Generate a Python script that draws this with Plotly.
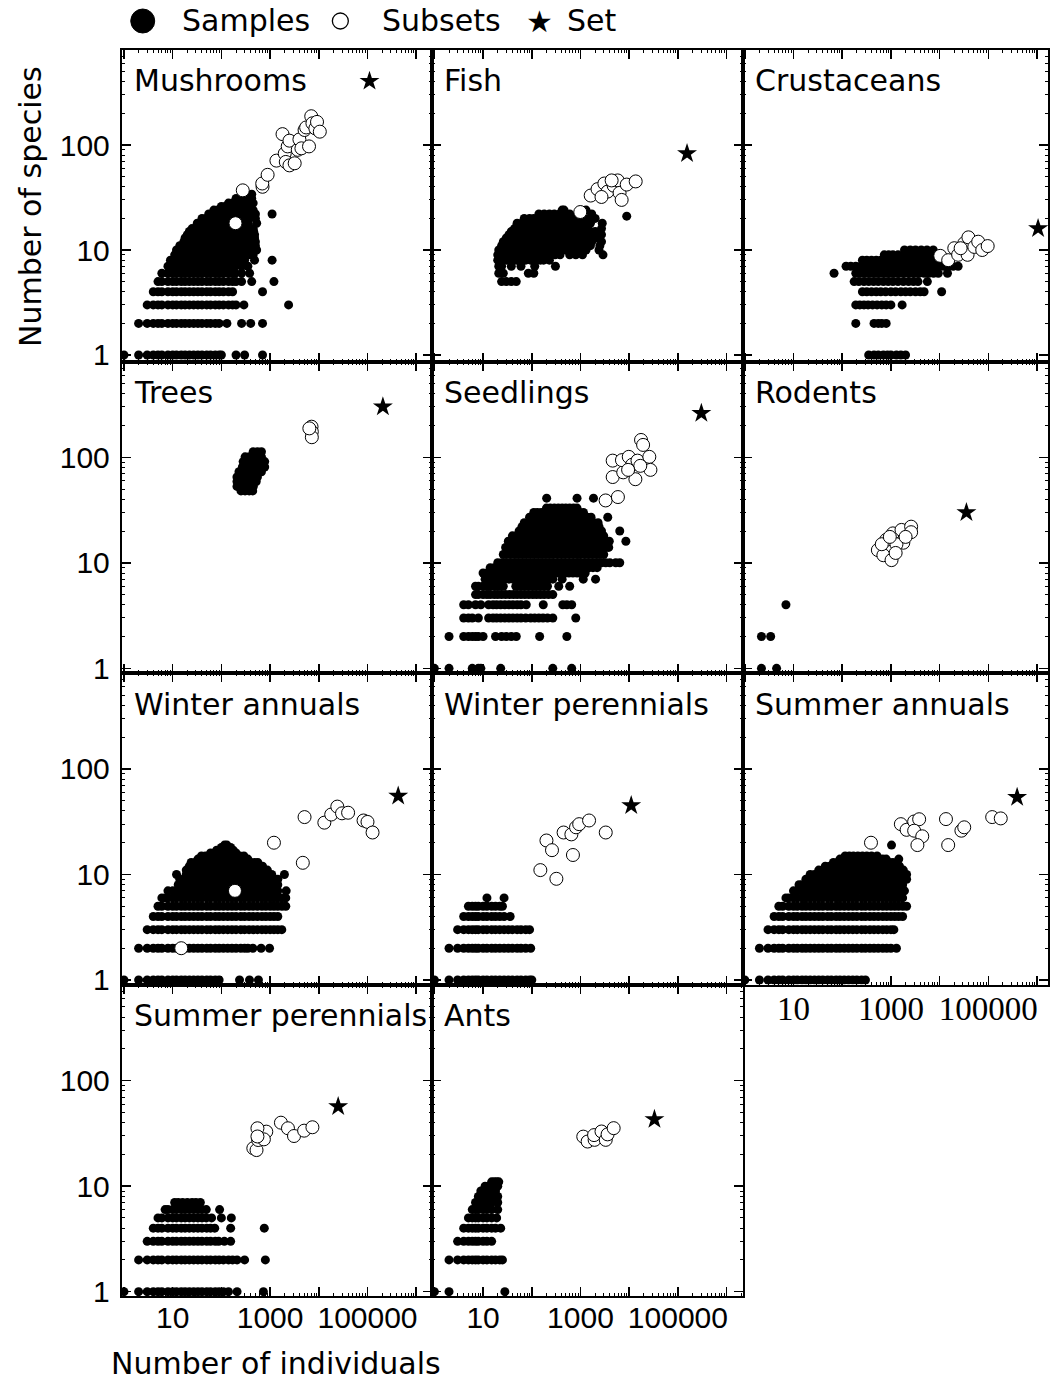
import plotly.graph_objects as go

# ---------------- data ----------------
# samples: {number of species: [number of individuals, ...]}
MUSH_SAMPLES = {
    1: [1, 2, 3, 4, 5, 6, 8, 10, 12, 15, 18, 22, 27, 33, 40, 50, 60, 75, 90, 100, 200, 300, 700],
    2: [2, 3, 4, 5, 6, 8, 10, 12, 15, 18, 22, 27, 33, 40, 50, 60, 75, 90, 130, 260, 400, 700],
    3: [3, 4, 5, 6, 8, 10, 12, 15, 18, 22, 27, 33, 40, 50, 60, 75, 90, 110, 140, 170, 200, 290, 2400],
    4: [4, 5, 6, 8, 10, 12, 15, 18, 22, 27, 33, 40, 50, 60, 75, 90, 110, 140, 170, 700],
    5: [5, 6, 8, 10, 12, 15, 18, 22, 27, 33, 40, 50, 60, 75, 90, 110, 140, 170, 200, 260, 420, 1200],
    6: [6, 8, 10, 12, 15, 18, 22, 27, 33, 40, 50, 60, 75, 90, 110, 140, 170, 190, 260, 380],
    7: [8, 10, 12, 15, 18, 22, 27, 33, 40, 50, 60, 75, 90, 110, 140, 170, 190, 260, 350],
    8: [9, 11, 13, 15, 18, 22, 27, 33, 40, 50, 60, 75, 90, 110, 140, 170, 240, 300, 480, 1100],
    9: [11, 13, 15, 18, 22, 27, 33, 40, 50, 60, 75, 90, 110, 140, 170, 200, 250, 300, 370, 450],
    10: [12, 15, 18, 22, 27, 33, 40, 50, 60, 75, 90, 110, 140, 170, 200, 250, 300, 370, 450, 530],
    11: [14, 17, 20, 24, 29, 35, 42, 50, 60, 72, 87, 105, 125, 150, 180, 220, 270, 330, 400, 500],
    12: [17, 20, 24, 29, 35, 42, 50, 60, 72, 87, 105, 125, 150, 180, 220, 270, 330, 400, 500],
    13: [18, 22, 27, 33, 40, 50, 60, 75, 90, 110, 140, 170, 200, 250, 300, 370, 480],
    14: [20, 24, 29, 35, 42, 50, 60, 72, 87, 105, 125, 150, 180, 220, 270, 330, 400, 480],
    15: [22, 27, 33, 40, 50, 60, 75, 90, 110, 140, 170, 200, 250, 300, 370, 460],
    16: [25, 30, 36, 43, 52, 62, 75, 90, 110, 130, 160, 190, 230, 280, 340, 450],
    18: [32, 38, 46, 55, 66, 80, 96, 115, 140, 165, 200, 240, 290, 350, 530],
    20: [40, 48, 58, 70, 84, 100, 120, 145, 175, 210, 250, 300, 370, 500],
    22: [55, 66, 80, 96, 115, 140, 165, 200, 240, 290, 350, 420, 500, 1100],
    24: [70, 84, 100, 120, 145, 175, 210, 250, 300, 370, 450],
    26: [100, 120, 145, 175, 210, 250, 300, 400],
    28: [140, 170, 200, 240, 290, 350, 450],
    31: [200, 240, 290, 350, 420],
    34: [280, 340, 420],
}
MUSH_SUB_N = [195, 275, 700, 690, 890, 1350, 1800, 2000, 2300, 2100, 2500, 3200, 2500, 3700,
              4000, 4400, 5100, 5500, 6300, 7000, 7400, 8500, 9200, 10500]
MUSH_SUB_S = [18, 37, 40, 43, 52, 71, 127, 83, 97, 69, 64, 67, 110, 90,
              113, 93, 139, 147, 97, 188, 161, 144, 166, 134]
MUSH_SET = (110000, 406)

FISH_SAMPLES = {
    5: [24, 30, 38, 48],
    6: [21, 26, 85, 110],
    7: [21, 24, 38, 60, 115, 306],
    8: [20, 24, 30, 38, 48, 60, 75, 95, 120, 150, 175, 230],
    9: [20, 24, 30, 38, 48, 60, 75, 95, 120, 150, 190, 240, 300, 380, 600, 800, 1100, 2900],
    10: [21, 26, 33, 42, 52, 65, 80, 100, 125, 160, 200, 250, 320, 400, 500, 650, 800, 1000, 1300, 2400],
    11: [24, 30, 38, 48, 60, 75, 95, 120, 150, 190, 240, 300, 380, 480, 600, 750, 950, 1200, 1600, 2500],
    12: [26, 33, 42, 52, 65, 80, 100, 125, 160, 200, 250, 320, 400, 500, 650, 800, 1000, 1300, 1700, 2700],
    13: [30, 38, 48, 60, 75, 95, 120, 150, 190, 240, 300, 380, 480, 600, 750, 950, 1200, 1600, 2200],
    14: [34, 42, 52, 65, 80, 100, 125, 160, 200, 250, 320, 400, 500, 650, 800, 1000, 1300, 1800, 2700],
    15: [38, 48, 60, 75, 95, 120, 150, 190, 240, 300, 380, 480, 600, 750, 950, 1200, 1600, 2000],
    16: [44, 55, 70, 88, 110, 140, 175, 220, 280, 350, 440, 550, 700, 880, 1100, 1400, 2700],
    18: [50, 62, 80, 100, 125, 160, 200, 250, 320, 400, 500, 650, 800, 1000, 1300, 1600, 2800],
    20: [70, 90, 110, 140, 175, 220, 280, 350, 440, 550, 700, 880, 1100, 1500, 2000],
    21: [8900],
    22: [140, 180, 230, 290, 370, 470, 600, 1700],
    24: [420, 460, 1300],
}
FISH_SUB_N = [990, 1620, 2240, 3090, 3600, 4800, 5800, 6350, 7000, 8900, 13600, 2700, 4360]
FISH_SUB_S = [23, 33, 38, 43, 36, 41, 46, 35, 30, 42, 45, 32, 46]
FISH_SET = (154000, 83)

CRUST_SAMPLES = {
    1: [350, 450, 550, 700, 850, 1000, 1300, 1600, 2000],
    2: [190, 450, 550, 650, 800],
    3: [190, 230, 280, 340, 420, 520, 650, 800, 1000, 1700],
    4: [260, 320, 400, 500, 620, 780, 1000, 1250, 1600, 2000, 2500, 3200, 4000, 4800, 11000],
    5: [176, 220, 280, 350, 440, 550, 700, 880, 1100, 1400, 1800, 2300, 2900, 3600, 5600],
    6: [68, 190, 240, 300, 380, 480, 600, 760, 950, 1200, 1500, 1900, 2400, 3000, 3800, 4800,
        6000, 7500, 9400, 14500],
    7: [120, 150, 190, 240, 300, 380, 480, 600, 760, 950, 1200, 1500, 1900, 2400, 3000, 3800,
        4800, 6000, 7500, 9400, 12000, 15000, 19000, 24000],
    8: [260, 320, 400, 500, 620, 780, 1000, 1250, 1600, 2000, 2500, 3200, 4000, 5000, 6300, 8000, 10000],
    9: [730, 900, 1100, 1400, 1800, 2300, 2900, 3600, 4500, 5600, 7000, 8500],
    10: [1900, 2500, 3200, 4200, 5500, 7400],
}
CRUST_SUB_N = [10300, 15000, 20000, 24000, 32000, 39000, 37500, 51500, 62000, 75000, 97000, 27000]
CRUST_SUB_S = [8.8, 8, 10.4, 9, 11.6, 13.2, 9, 10.7, 12, 10, 10.9, 10.4]
CRUST_SET = (1050000, 16)

TREES_SAMPLES = {
    113: [450, 550, 665],
    101: [307, 373, 453, 550, 665],
    91: [280, 307, 373, 453, 550, 665, 775],
    81: [270, 307, 373, 453, 550, 665, 775],
    73: [230, 280, 330, 373, 453, 550, 665],
    65: [209, 253, 307, 373, 453, 550],
    59: [209, 253, 307, 373, 453, 520],
    53: [209, 253, 307, 373, 453],
    48: [253, 307, 373, 440],
}
TREES_SUB_N = [7100, 7200, 7200, 6400]
TREES_SUB_S = [195, 175, 155, 188]
TREES_SET = (207000, 302)

SEED_SAMPLES = {
    1: [1, 2, 6, 8, 9, 23, 270, 660],
    2: [2, 4, 5, 6, 7, 8, 10, 18, 24, 30, 38, 48, 145, 525],
    3: [4, 5, 6, 8, 13, 16, 19, 23, 28, 34, 41, 50, 60, 75, 95, 115, 140, 170, 210, 270, 800],
    4: [4, 5, 7, 9, 13, 16, 19, 23, 28, 34, 41, 50, 60, 77, 172, 433, 525, 660],
    5: [7, 8, 10, 12, 14, 17, 20, 24, 29, 35, 42, 50, 60, 72, 87, 105, 125, 150, 180, 220, 270],
    6: [7, 8, 10, 12, 14, 18, 22, 26, 47, 57, 68, 82, 100, 120, 145, 175, 210, 358, 600],
    7: [11, 13, 16, 19, 23, 28, 34, 41, 50, 60, 72, 87, 105, 125, 150, 180, 220, 270, 420, 1140, 2040],
    8: [10, 12, 14, 17, 20, 24, 29, 35, 42, 50, 60, 72, 87, 105, 125, 150, 180, 220, 270, 330, 400,
        480, 580, 700, 850, 1000, 1250],
    9: [14, 17, 20, 24, 29, 35, 42, 50, 60, 72, 87, 105, 125, 150, 180, 220, 270, 330, 400, 480, 580,
        700, 850, 1000, 1250, 1500, 1800, 2200],
    10: [20, 24, 29, 35, 42, 50, 60, 72, 87, 105, 125, 150, 180, 220, 270, 330, 400, 480, 580, 700,
         850, 1000, 1250, 1500, 1800, 2200, 2700, 3300, 4000, 5300, 6400],
    12: [26, 31, 37, 45, 54, 65, 78, 94, 113, 136, 163, 196, 235, 280, 340, 410, 490, 590, 710, 850,
         1000, 1200, 1450, 1750, 2100, 2500, 3000],
    14: [29, 35, 42, 50, 60, 72, 87, 105, 125, 150, 180, 220, 270, 330, 400, 480, 580, 700, 850, 1000,
         1250, 1500, 1800, 2200, 2700, 3300, 3800],
    16: [33, 40, 48, 58, 70, 84, 100, 120, 145, 175, 210, 250, 300, 360, 430, 520, 620, 750, 900, 1080,
         1300, 1560, 1870, 2250, 2700, 3200, 3900, 8550],
    18: [40, 48, 58, 70, 84, 100, 120, 145, 175, 210, 250, 300, 360, 430, 520, 620, 750, 900, 1080,
         1300, 1560, 1870, 2250, 2700, 3000],
    20: [55, 66, 80, 96, 115, 138, 165, 200, 240, 290, 350, 420, 500, 600, 720, 860, 1030, 1240, 1490,
         1790, 2150, 2700, 6400],
    22: [63, 75, 90, 108, 130, 156, 187, 225, 270, 325, 390, 470, 560, 670, 800, 960, 1150, 1380, 1650,
         2000, 2400],
    24: [70, 84, 100, 120, 145, 175, 210, 250, 300, 360, 430, 520, 620, 750, 900, 1080, 1300, 1560,
         1870, 2300],
    27: [90, 108, 130, 156, 187, 225, 270, 325, 390, 470, 560, 670, 800, 960, 1150, 1380, 1650, 3630],
    30: [110, 130, 156, 187, 225, 270, 325, 390, 470, 560, 670, 800, 960, 1150],
    33: [200, 240, 290, 350, 420, 500, 600, 720, 850],
    41: [202, 850, 1850],
}
SEED_SUB_N = [3280, 5870, 4580, 4580, 7550, 7100, 9800, 11500, 14800, 13400, 17500, 19300, 25900,
              27300, 16900, 9500]
SEED_SUB_S = [39, 42, 93, 65, 72, 94, 101, 85, 93, 62, 146, 131, 101, 76, 83, 76]
SEED_SET = (303000, 261)

RODENT_SAMPLES = {1: [2.2, 4.5], 2: [2.2, 3.4], 4: [7]}
RODENT_SUB_N = [540, 700, 1030, 800, 1100, 1650, 1800, 2600, 2600, 1300, 1250, 650, 2000, 950]
RODENT_SUB_S = [13.2, 11.8, 10.6, 16.5, 19, 20.5, 15.5, 22, 19.5, 15, 12.4, 15, 17.6, 17.6]
RODENT_SET = (35500, 30)

WA_SAMPLES = {
    1: [1, 2, 3, 4, 5, 6, 8, 10, 12, 15, 18, 22, 27, 33, 40, 50, 60, 75, 90, 236, 378, 577],
    2: [2, 3, 4, 5, 6, 8, 10, 12, 15, 18, 22, 27, 33, 40, 50, 60, 75, 90, 110, 135, 165, 200, 250,
        300, 350, 443, 655, 975],
    3: [3, 4, 5, 6, 8, 10, 12, 15, 18, 22, 27, 33, 40, 50, 60, 75, 90, 110, 135, 165, 200, 250, 300,
        370, 450, 550, 680, 820, 1000, 1200, 1440, 1740],
    4: [4, 5, 6, 8, 10, 12, 15, 18, 22, 27, 33, 40, 50, 60, 75, 90, 110, 135, 165, 200, 250, 300, 370,
        450, 550, 680, 820, 1000, 1200, 1440],
    5: [5, 6, 8, 10, 12, 15, 18, 22, 27, 33, 40, 50, 60, 75, 90, 110, 135, 165, 200, 250, 300, 370,
        450, 550, 680, 820, 1000, 1200, 1440, 1750, 2100],
    6: [6, 7, 8, 10, 12, 15, 18, 22, 27, 33, 40, 50, 60, 75, 90, 110, 135, 165, 200, 250, 300, 370,
        450, 550, 680, 820, 1000, 1200, 1440, 1750, 2100],
    7: [8, 10, 12, 15, 18, 22, 27, 33, 40, 50, 60, 75, 90, 110, 135, 165, 200, 250, 300, 370, 450,
        550, 680, 820, 1000, 1200, 1440, 2140],
    8: [13, 15, 18, 22, 27, 33, 40, 50, 60, 75, 90, 110, 135, 165, 200, 250, 300, 370, 450, 550, 680,
        820, 1000, 1200, 1440],
    9: [14, 17, 20, 24, 29, 35, 42, 50, 60, 72, 87, 105, 125, 150, 180, 220, 270, 330, 400, 480, 580,
        700, 850, 1000, 1200, 1440],
    10: [12, 19, 23, 28, 33, 40, 48, 58, 70, 84, 100, 120, 145, 175, 210, 250, 300, 360, 430, 520, 620,
         750, 900, 1080, 1970],
    11: [19, 23, 28, 33, 40, 48, 58, 70, 84, 100, 120, 145, 175, 210, 250, 300, 360, 430, 520, 620,
         750, 880],
    12: [22, 26, 31, 37, 45, 54, 65, 78, 94, 113, 136, 163, 196, 235, 280, 340, 410, 490, 590, 700],
    13: [24, 29, 35, 42, 50, 60, 72, 87, 105, 125, 150, 180, 220, 270, 330, 400, 480, 560],
    14: [33, 39, 47, 56, 67, 80, 96, 115, 138, 165, 200, 240, 290, 350],
    15: [39, 47, 56, 67, 80, 96, 115, 138, 165, 200, 240, 290],
    16: [60, 73, 87, 100, 120, 145, 170, 200],
    17: [80, 95, 110, 130, 150, 175],
    18: [100, 116, 135, 155],
    19: [116, 130],
}
WA_SUB_N = [15, 190, 1200, 4700, 5100, 13000, 18000, 24000, 30000, 40000, 83000, 100000, 127000]
WA_SUB_S = [2, 7, 20, 12.9, 35, 31, 37, 44, 38, 38.5, 32.5, 31.5, 25]
WA_SET = (427000, 55.5)

WP_SAMPLES = {
    1: [1, 2, 3, 4, 5, 6, 7, 8, 10, 12, 15, 18, 22, 27, 33, 40, 50, 60, 75, 90, 100],
    2: [2, 3, 4, 5, 6, 7, 8, 10, 12, 15, 18, 22, 27, 33, 40, 50, 60, 75, 95],
    3: [3, 4, 5, 6, 7, 8, 10, 12, 15, 18, 22, 27, 33, 40, 50, 60, 75, 90],
    4: [4, 5, 6, 7, 8, 10, 12, 15, 18, 22, 27, 36],
    5: [5, 6, 7, 8, 10, 12, 15, 18, 22, 25],
    6: [12, 27],
}
WP_SUB_N = [150, 320, 200, 260, 450, 650, 700, 810, 940, 1500, 3300]
WP_SUB_S = [11, 9.1, 21, 17, 25, 24, 15.3, 28, 30, 32.5, 25]
WP_SET = (11000, 45)

SA_SAMPLES = {
    1: [1, 2, 3, 4, 5, 6, 8, 10, 12, 15, 18, 22, 27, 33, 40, 50, 60, 75, 90, 110, 135, 165, 200, 250, 300],
    2: [2, 3, 4, 5, 6, 8, 10, 12, 15, 18, 22, 27, 33, 40, 50, 60, 75, 90, 110, 135, 165, 200, 250, 300,
        370, 450, 550, 680, 820, 1000, 1300],
    3: [3, 4, 5, 6, 8, 10, 12, 15, 18, 22, 27, 33, 40, 50, 60, 75, 90, 110, 135, 165, 200, 250, 300,
        370, 450, 550, 680, 820, 1000, 1150],
    4: [4, 5, 6, 8, 10, 12, 15, 18, 22, 27, 33, 40, 50, 60, 75, 90, 110, 135, 165, 200, 250, 300, 370,
        450, 550, 680, 820, 1000, 1200, 1440, 1740],
    5: [5, 6, 8, 10, 12, 15, 18, 22, 27, 33, 40, 50, 60, 75, 90, 110, 135, 165, 200, 250, 300, 370,
        450, 550, 680, 820, 1000, 1200, 1440, 1750, 2100],
    6: [7, 8, 10, 12, 15, 18, 22, 27, 33, 40, 50, 60, 75, 90, 110, 135, 165, 200, 250, 300, 370, 450,
        550, 680, 820, 1000, 1200, 1440, 1740],
    7: [10, 12, 15, 18, 22, 27, 33, 40, 50, 60, 75, 90, 110, 135, 165, 200, 250, 300, 370, 450, 550,
        680, 820, 1000, 1200, 1440, 1900],
    8: [13, 15, 18, 22, 27, 33, 40, 50, 60, 75, 90, 110, 135, 165, 200, 250, 300, 370, 450, 550, 680,
        820, 1000, 1200, 1440, 1740],
    9: [18, 22, 27, 33, 40, 50, 60, 75, 90, 110, 135, 165, 200, 250, 300, 370, 450, 550, 680, 820,
        1000, 1200, 1440, 1750, 2100],
    10: [22, 27, 33, 40, 50, 60, 75, 90, 110, 135, 165, 200, 250, 300, 370, 450, 550, 680, 820, 1000,
         1200, 1440, 1750, 2100],
    11: [33, 40, 50, 60, 75, 90, 110, 135, 165, 200, 250, 300, 370, 450, 550, 680, 820, 1000, 1200,
         1500, 1800],
    12: [45, 55, 66, 80, 97, 117, 140, 170, 205, 250, 300, 360, 440, 530, 640, 770, 930, 1120, 1350, 1500],
    13: [66, 80, 97, 117, 140, 170, 205, 250, 300, 360, 440, 530, 640, 770, 930, 1100],
    14: [90, 110, 135, 165, 200, 250, 300, 370, 450, 550, 680, 800, 1450],
    15: [115, 140, 170, 210, 260, 320, 400, 520],
    19: [1030],
}
SA_SUB_N = [390, 1600, 2100, 3000, 3800, 3000, 4400, 3500, 13500, 15000, 28000, 32000, 120000, 180000]
SA_SUB_S = [20, 30, 26.5, 31.8, 33.4, 26, 23, 19, 33.5, 19, 26, 28, 35, 34]
SA_SET = (390000, 54)

SP_SAMPLES = {
    1: [1, 2, 3, 4, 5, 6, 8, 10, 12, 15, 18, 22, 27, 33, 40, 50, 60, 75, 90, 110, 140, 210, 730],
    2: [2, 3, 4, 5, 6, 8, 10, 12, 15, 18, 22, 27, 33, 40, 50, 60, 75, 90, 110, 140, 170, 210, 300, 800],
    3: [3, 4, 5, 6, 8, 10, 12, 15, 18, 22, 27, 33, 40, 50, 60, 75, 88, 115, 155],
    4: [4, 5, 6, 8, 10, 12, 15, 18, 22, 27, 33, 40, 50, 60, 73, 155, 760],
    5: [5, 6, 8, 10, 12, 15, 18, 22, 27, 33, 40, 49, 63, 100, 160],
    6: [7, 8, 10, 12, 15, 18, 22, 27, 33, 40, 49, 92],
    7: [11, 13, 16, 20, 25, 30, 37],
}
SP_SUB_N = [453, 527, 570, 836, 550, 746, 1670, 2330, 3100, 5000, 7400, 550]
SP_SUB_S = [22.9, 22, 27.4, 32.9, 35.4, 27.8, 40, 35.4, 29.9, 33.6, 36.2, 29.6]
SP_SET = (25000, 57)

ANTS_SAMPLES = {
    1: [1, 2, 28],
    2: [2, 3, 4, 5, 6, 7, 8, 10, 12, 15, 18, 22, 25],
    3: [3, 4, 5, 6, 7, 8, 10, 12, 15],
    4: [4, 5, 6, 7, 8, 10, 12, 15, 18, 23],
    5: [5, 6, 7, 8, 10, 12, 15, 19],
    6: [6, 7, 8, 10, 12, 15, 20],
    7: [7, 8, 10, 12, 15, 20],
    8: [8, 10, 12, 15, 20],
    9: [9, 10, 12, 15, 18],
    10: [11, 13, 15, 18, 20],
    11: [15, 17, 19, 21],
}
ANTS_SUB_N = [1140, 1400, 1950, 1900, 2700, 3300, 3600, 4800]
ANTS_SUB_S = [29.5, 26.5, 27.5, 30.5, 33, 27.5, 31, 35.5]
ANTS_SET = (33000, 43)

PANEL_NAMES = ["Mushrooms", "Fish", "Crustaceans", "Trees", "Seedlings", "Rodents",
               "Winter annuals", "Winter perennials", "Summer annuals",
               "Summer perennials", "Ants"]
PANEL_DATA = [
    (MUSH_SAMPLES, MUSH_SUB_N, MUSH_SUB_S, MUSH_SET),
    (FISH_SAMPLES, FISH_SUB_N, FISH_SUB_S, FISH_SET),
    (CRUST_SAMPLES, CRUST_SUB_N, CRUST_SUB_S, CRUST_SET),
    (TREES_SAMPLES, TREES_SUB_N, TREES_SUB_S, TREES_SET),
    (SEED_SAMPLES, SEED_SUB_N, SEED_SUB_S, SEED_SET),
    (RODENT_SAMPLES, RODENT_SUB_N, RODENT_SUB_S, RODENT_SET),
    (WA_SAMPLES, WA_SUB_N, WA_SUB_S, WA_SET),
    (WP_SAMPLES, WP_SUB_N, WP_SUB_S, WP_SET),
    (SA_SAMPLES, SA_SUB_N, SA_SUB_S, SA_SET),
    (SP_SAMPLES, SP_SUB_N, SP_SUB_S, SP_SET),
    (ANTS_SAMPLES, ANTS_SUB_N, ANTS_SUB_S, ANTS_SET),
]

X_TICKS = [1, 10, 100, 1000, 10000, 100000, 1000000]
X_TICKTEXT = ["", "10", "", "1000", "", "100000", ""]
Y_TICKS = [1, 10, 100]
Y_TICKTEXT = ["1", "10", "100"]
MANTISSAS = [2, 3, 4, 5, 6, 7, 8, 9]

# ---------------- layout geometry (pixels of the 1050x1386 target) ----------------
W, H = 1050, 1386
FIG_H = 1398          # the captured picture comes out ~0.9914 squeezed vertically
COL_L = [122, 433, 744]
COL_R = [433, 744, 1050]
COL_XRANGE = [[-0.045, 6.328], [-0.045, 6.328], [-0.045, 6.225]]
ROW_T = [50, 361.5, 673, 984.5]
ROW_B = [361.5, 673, 984.5, 1296]
ROW_YRANGE = [[-0.062, 2.905], [-0.0445, 2.908], [-0.043, 2.91], [-0.041, 2.912]]

SANS = "DejaVu Sans"
TICKFONT = dict(family="Liberation Sans", size=30, color="black")
SERIFFONT = dict(family="Liberation Serif", size=33, color="black")

minor_x = [m * 10 ** k for k in range(0, 7) for m in MANTISSAS]
minor_y = [m * 10 ** k for k in range(0, 3) for m in MANTISSAS]

fig = go.Figure()
layout = dict(width=W, height=FIG_H, margin=dict(l=0, r=0, t=0, b=0),
              paper_bgcolor="white", plot_bgcolor="white", showlegend=False)
annotations = []

for i, (name, (samples, sub_n, sub_s, star)) in enumerate(zip(PANEL_NAMES, PANEL_DATA)):
    row, col = divmod(i, 3)
    sfx = "" if i == 0 else str(i + 1)
    xs = [n for s, ns in samples.items() for n in ns]
    ys = [s for s, ns in samples.items() for _ in ns]
    fig.add_trace(go.Scatter(x=xs, y=ys, mode="markers", xaxis="x" + sfx, yaxis="y" + sfx,
                             marker=dict(symbol="circle", size=9, color="black", line=dict(width=0)),
                             hoverinfo="skip"))
    fig.add_trace(go.Scatter(x=sub_n, y=sub_s, mode="markers", xaxis="x" + sfx, yaxis="y" + sfx,
                             marker=dict(symbol="circle", size=13, color="white",
                                         line=dict(width=1, color="black")),
                             hoverinfo="skip"))
    fig.add_trace(go.Scatter(x=[star[0]], y=[star[1]], mode="markers", xaxis="x" + sfx, yaxis="y" + sfx,
                             marker=dict(symbol="star", size=15, color="black", line=dict(width=0)),
                             hoverinfo="skip"))

    serif_labels = (row == 2 and col == 2)
    bottom_labels = (row == 3) or serif_labels
    xa = dict(type="log", domain=[COL_L[col] / W, COL_R[col] / W], range=COL_XRANGE[col],
              anchor="y" + sfx, showline=True, linecolor="black", linewidth=2, mirror="ticks",
              ticks="inside", ticklen=9, tickwidth=1.5, tickcolor="black",
              tickmode="array", tickvals=X_TICKS,
              ticktext=X_TICKTEXT if bottom_labels else [""] * len(X_TICKS),
              tickfont=SERIFFONT if serif_labels else TICKFONT,
              ticklabelstandoff=-6,
              showgrid=False, zeroline=False, fixedrange=True,
              minor=dict(ticks="inside", ticklen=3, tickwidth=1, tickcolor="black",
                         tickmode="array", tickvals=minor_x, showgrid=False))
    ya = dict(type="log", domain=[1 - ROW_B[row] / H, 1 - ROW_T[row] / H], range=ROW_YRANGE[row],
              anchor="x" + sfx, showline=True, linecolor="black", linewidth=2, mirror="ticks",
              ticks="inside", ticklen=9, tickwidth=1.5, tickcolor="black",
              tickmode="array", tickvals=Y_TICKS,
              ticktext=Y_TICKTEXT if col == 0 else [""] * len(Y_TICKS),
              tickfont=TICKFONT, ticklabelstandoff=4,
              showgrid=False, zeroline=False, fixedrange=True,
              minor=dict(ticks="inside", ticklen=3, tickwidth=1, tickcolor="black",
                         tickmode="array", tickvals=minor_y, showgrid=False))
    layout["xaxis" + sfx] = xa
    layout["yaxis" + sfx] = ya
    annotations.append(dict(text=name, xref=("x" + sfx + " domain"), yref=("y" + sfx + " domain"),
                            x=0, y=1, xshift=10, yshift=-31, xanchor="left", yanchor="middle",
                            showarrow=False, font=dict(family=SANS, size=30, color="black")))

# axis titles
annotations.append(dict(text="Number of species", xref="paper", yref="paper",
                        x=30 / W, y=1 - 206 / H, textangle=-90, showarrow=False,
                        xanchor="center", yanchor="middle",
                        font=dict(family=SANS, size=30, color="black")))
annotations.append(dict(text="Number of individuals", xref="paper", yref="paper",
                        x=277 / W, y=1 - 1363 / H, showarrow=False,
                        xanchor="center", yanchor="middle",
                        font=dict(family=SANS, size=30, color="black")))

# legend (top)
LEG_Y = 21
shapes = [
    dict(type="circle", xref="paper", yref="paper", x0=131 / W, x1=155 / W,
         y0=1 - (LEG_Y + 12) / H, y1=1 - (LEG_Y - 12) / H,
         fillcolor="black", line=dict(color="black", width=1)),
    dict(type="circle", xref="paper", yref="paper", x0=333 / W, x1=349 / W,
         y0=1 - (LEG_Y + 8) / H, y1=1 - (LEG_Y - 8) / H,
         fillcolor="white", line=dict(color="black", width=1.3)),
]
for txt, xpix in [("Samples", 180), ("Subsets", 381), ("Set", 566)]:
    annotations.append(dict(text=txt, xref="paper", yref="paper", x=xpix / W, y=1 - LEG_Y / H,
                            xanchor="left", yanchor="middle", showarrow=False,
                            font=dict(family=SANS, size=30, color="black")))
annotations.append(dict(text="★", xref="paper", yref="paper", x=541 / W, y=1 - (LEG_Y + 1) / H,
                        xanchor="center", yanchor="middle", showarrow=False,
                        font=dict(family=SANS, size=30, color="black")))

layout["annotations"] = annotations
layout["shapes"] = shapes
fig.update_layout(**layout)

PAGE_FIX = ("var d=document.documentElement,b=document.body;"
            "d.style.margin='0';d.style.padding='0';d.style.overflow='hidden';"
            "b.style.margin='0';b.style.padding='0';b.style.overflow='hidden';")
fig.write_html("out.html", config={"displayModeBar": False, "staticPlot": True},
               post_script=PAGE_FIX)
